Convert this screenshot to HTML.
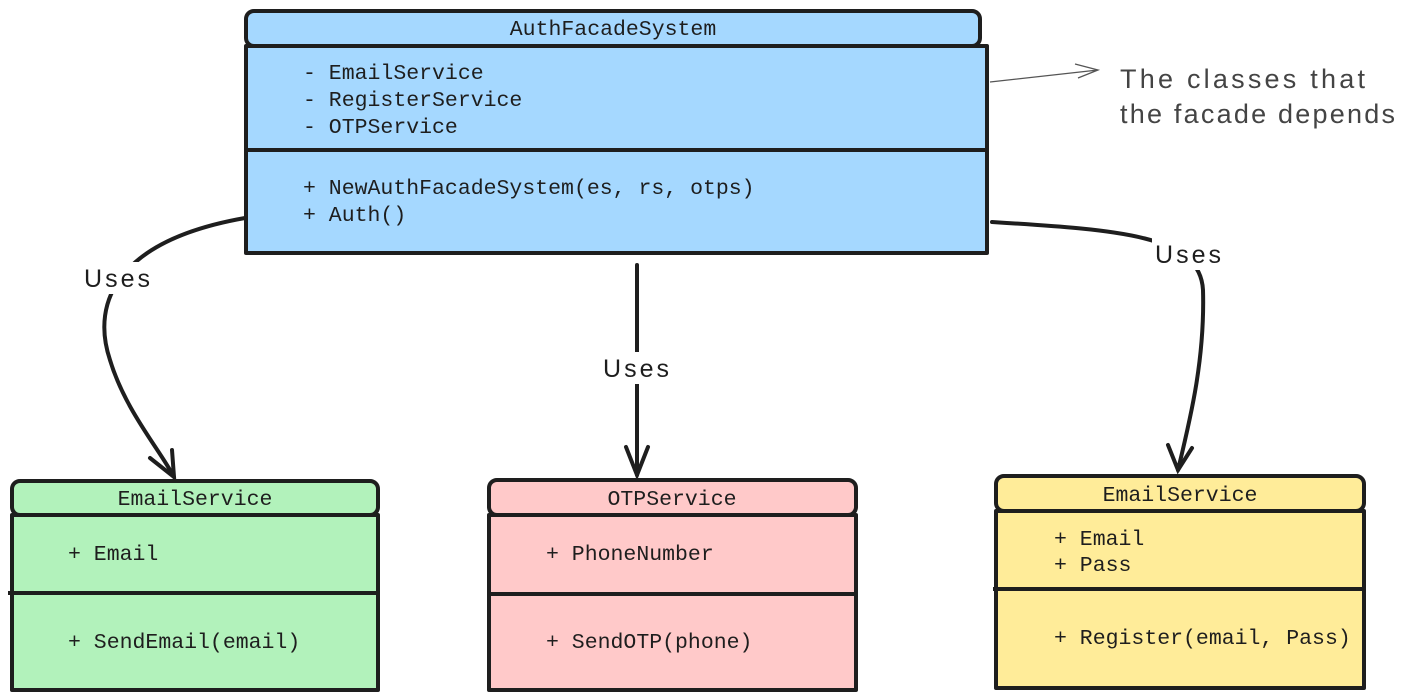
<!DOCTYPE html>
<html><head><style>
body{margin:0;background:#fff;}
svg{display:block;}
.m{font-family:"Liberation Mono",monospace;font-size:21.5px;fill:#1e1e1e;}
.h{font-family:"Liberation Sans",sans-serif;font-size:25px;fill:#1e1e1e;}
</style></head><body>
<svg width="1419" height="699" viewBox="0 0 1419 699" xmlns="http://www.w3.org/2000/svg">
<g stroke="#1e1e1e" stroke-width="4" stroke-linejoin="round">
<rect x="246" y="46" width="741" height="207" fill="#a5d8ff"/>
<rect x="246" y="11" width="734" height="35" rx="8" fill="#a5d8ff"/>
<line x1="246" y1="150" x2="987" y2="150"/>
<rect x="12" y="515" width="366" height="175" fill="#b2f2bb"/>
<rect x="12" y="481" width="366" height="34" rx="8" fill="#b2f2bb"/>
<line x1="8" y1="593" x2="378" y2="593"/>
<rect x="489" y="515" width="367" height="175" fill="#ffc9c9"/>
<rect x="489" y="480" width="367" height="35" rx="8" fill="#ffc9c9"/>
<line x1="489" y1="594" x2="856" y2="594"/>
<rect x="996" y="511" width="368" height="177" fill="#ffec99"/>
<rect x="996" y="476" width="368" height="35" rx="8" fill="#ffec99"/>
<line x1="993" y1="589" x2="1364" y2="589"/>
</g>
<g fill="none" stroke="#1e1e1e" stroke-width="4" stroke-linecap="round">
<path d="M245 218 C120 240 90 300 110 360 C125 410 160 450 174 477"/>
<path d="M150 458 L174 477 L172 450"/>
<path d="M637 265 L637 475"/>
<path d="M626 447 L637 475 L648 447"/>
<path d="M992 222 C1120 230 1200 235 1203 290 C1205 360 1190 420 1178 470"/>
<path d="M1168 445 L1178 470 L1192 448"/>
</g>
<g fill="none" stroke="#555" stroke-width="1.3">
<path d="M990 82 L1098 70 M1075 64 L1098 70 L1078 78"/>
</g>
<g fill="#fff">
<rect x="82" y="262" width="70" height="32"/>
<rect x="600" y="352" width="72" height="32"/>
<rect x="1152" y="238" width="72" height="32"/>
</g>
<text class="h" x="84" y="287" textLength="66">Uses</text>
<text class="h" x="603" y="377" textLength="66">Uses</text>
<text class="h" x="1155" y="263" textLength="66">Uses</text>
<text class="h" x="1120" y="88" textLength="245" style="fill:#444;font-size:27px">The classes that</text>
<text class="h" x="1120" y="123" textLength="275" style="fill:#444;font-size:27px">the facade depends</text>
<g class="m">
<text x="613" y="35" text-anchor="middle">AuthFacadeSystem</text>
<text x="303" y="79">- EmailService</text>
<text x="303" y="106">- RegisterService</text>
<text x="303" y="133">- OTPService</text>
<text x="303" y="194">+ NewAuthFacadeSystem(es, rs, otps)</text>
<text x="303" y="221">+ Auth()</text>
<text x="195" y="505" text-anchor="middle">EmailService</text>
<text x="68" y="560">+ Email</text>
<text x="68" y="648">+ SendEmail(email)</text>
<text x="672" y="505" text-anchor="middle">OTPService</text>
<text x="546" y="560">+ PhoneNumber</text>
<text x="546" y="648">+ SendOTP(phone)</text>
<text x="1180" y="501" text-anchor="middle">EmailService</text>
<text x="1054" y="545">+ Email</text>
<text x="1054" y="571">+ Pass</text>
<text x="1054" y="644">+ Register(email, Pass)</text>
</g>
</svg>
</body></html>
